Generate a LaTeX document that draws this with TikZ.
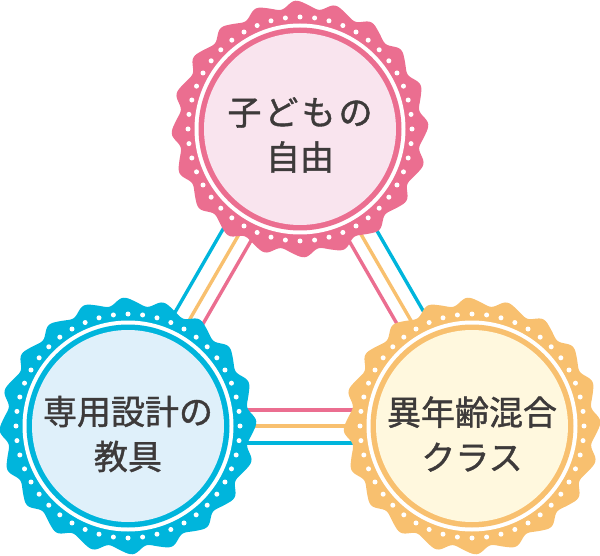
\documentclass[tikz,border=0pt]{standalone}
\usepackage{fontspec}
\usetikzlibrary{calc}
\newfontfamily\cjk{Noto Sans CJK JP}[FakeBold=1.2]
\newfontfamily\cjkwide{Noto Sans CJK JP}[FakeBold=1.2,LetterSpace=9]
\definecolor{pinkc}{HTML}{EB6E90}
\definecolor{pinki}{HTML}{F9E4EE}
\definecolor{bluec}{HTML}{00B5DC}
\definecolor{bluei}{HTML}{DFF0FA}
\definecolor{orac}{HTML}{F8C06F}
\definecolor{orai}{HTML}{FFF8DE}
\definecolor{inkc}{HTML}{3D3A3A}
\tikzset{
  link/.style={line width=3.4pt},
  label/.style={text=inkc,font=\cjk\fontsize{34}{45}\selectfont,align=center,inner sep=0pt},
}
\newcommand{\badge}[3]{%
  \begin{scope}[shift={(#1)}]
    \fill[#2] plot[domain=0:360,samples=361] ({(124.5+3.7*(-sin(250-20*\x)-0.15*sin(500-40*\x)))*cos(\x)},{(124.5+3.7*(-sin(250-20*\x)-0.15*sin(500-40*\x)))*sin(\x)}) -- cycle;
    \foreach \a in {0,7.5,...,352.5} \fill[white] (\a:112) circle (2.5);
    \fill[white] (0,0) circle (105.5);
    \fill[#2] (0,0) circle (101.5);
    \fill[#3] (0,0) circle (96);
  \end{scope}}
\begin{document}
\begin{tikzpicture}[x=1pt,y=-1pt]
  \useasboundingbox (0,0) rectangle (600,556);
  \coordinate (T) at (300,129);
  \coordinate (L) at (128,426);
  \coordinate (R) at (472,426);
  % connectors
  \draw[link,pinkc] ($(T)+(12,6)$) -- ($(L)+(12,7)$);
  \draw[link,orac] (T) -- (L);
  \draw[link,bluec] ($(T)+(-14,-9)$) -- ($(L)+(-14,-8)$);
  \draw[link,pinkc] ($(T)+(-12,6)$) -- ($(R)+(-12,7)$);
  \draw[link,orac] (T) -- (R);
  \draw[link,bluec] ($(T)+(13,-9)$) -- ($(R)+(13,-8)$);
  \draw[link,pinkc] ($(L)+(0,-16)$) -- ($(R)+(0,-16)$);
  \draw[link,orac] (L) -- (R);
  \draw[link,bluec] ($(L)+(0,17)$) -- ($(R)+(0,17)$);
  \badge{T}{pinkc}{pinki}
  \badge{L}{bluec}{bluei}
  \badge{R}{orac}{orai}
  \node[label] (tt) at ($(T)+(0,6)$) {{\cjkwide\fontsize{34}{45}\selectfont 子どもの}\\自由};
  \node[label] (lt) at ($(L)+(0,8)$) {専用設計の\\教具};
  \node[label] (rt) at ($(R)+(0,8)$) {異年齢混合\\クラス};
\end{tikzpicture}
\end{document}
